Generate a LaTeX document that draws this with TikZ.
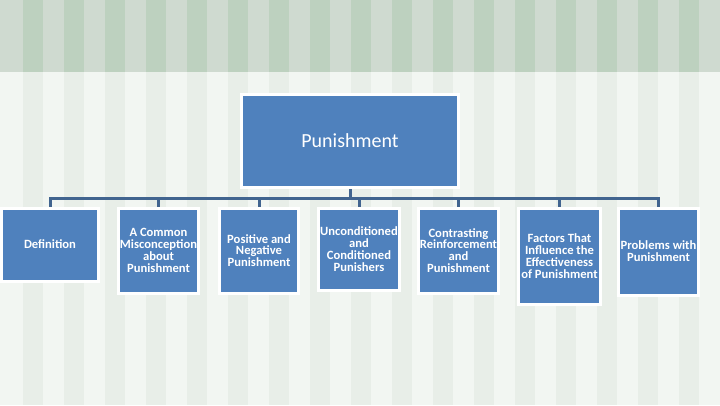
\documentclass[tikz,border=0pt]{standalone}
\usepackage{fontspec}
\setmainfont{Carlito}
\definecolor{boxblue}{HTML}{4F81BD}
\definecolor{linkblue}{HTML}{41648F}
\definecolor{topbase}{HTML}{CFDAD0}
\definecolor{topstripe}{HTML}{BDD1BF}
\definecolor{lowbase}{HTML}{F2F6F2}
\definecolor{lowstripe}{HTML}{E8EEE8}
\pgfdeclarelayer{bg}
\pgfdeclarelayer{links}
\pgfsetlayers{bg,links,main}
\tikzset{
  topbox/.style={fill=boxblue, draw=white, line width=3pt, text=white,
    minimum width=217pt, minimum height=93pt, inner sep=0pt,
    font=\fontsize{20}{24}\selectfont},
  childbox/.style={fill=boxblue, draw=white, line width=3pt, text=white,
    inner sep=0pt, anchor=north, align=center,
    font=\bfseries\fontsize{12.6}{11.8}\selectfont},
  link/.style={draw=linkblue, line width=3pt}
}
\begin{document}
\begin{tikzpicture}[x=1pt,y=-1pt]
\useasboundingbox (0,0) rectangle (720,405);
\begin{pgfonlayer}{bg}
  \fill[topbase] (0,0) rectangle (720,72);
  \fill[lowbase] (0,72) rectangle (720,405);
  \foreach \k in {0,...,17} {
    \fill[topstripe] ({23+41*\k},0) rectangle ({43+41*\k},72);
    \fill[lowstripe] ({23+41*\k},72) rectangle ({43+41*\k},405);
  }
\end{pgfonlayer}

\node[topbox] (top) at (350,141) {Punishment};

\node[childbox, minimum width=97pt, minimum height=73pt] (c1) at (50,206.5) {Definition};
\node[childbox, minimum width=80pt, minimum height=85pt] (c2) at (158.5,206.5) {A Common\\Misconception\\about\\Punishment};
\node[childbox, minimum width=79pt, minimum height=85pt] (c3) at (259,206.5) {Positive and\\Negative\\Punishment};
\node[childbox, minimum width=81pt, minimum height=82pt] (c4) at (359,206.5) {Unconditioned\\and\\Conditioned\\Punishers};
\node[childbox, minimum width=80pt, minimum height=85pt] (c5) at (458.5,206.5) {Contrasting\\Reinforcement\\and\\Punishment};
\node[childbox, minimum width=82pt, minimum height=96pt] (c6) at (559.5,206.5) {Factors That\\Influence the\\Effectiveness\\of Punishment};
\node[childbox, minimum width=80pt, minimum height=87pt] (c7) at (658.5,206.5) {Problems with\\Punishment};

\coordinate (bar) at (350,198);
\begin{pgfonlayer}{links}
  \draw[link] (top.south) -- (bar);
  \foreach \c in {c1,c2,c3,c4,c5,c6,c7} {
    \draw[link] (bar) -| (\c.north);
  }
\end{pgfonlayer}
\end{tikzpicture}
\end{document}
